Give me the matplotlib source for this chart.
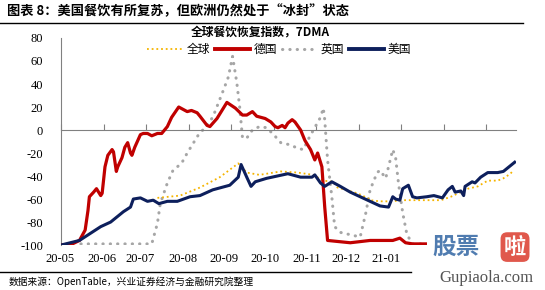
import matplotlib
matplotlib.use("Agg")
import matplotlib.pyplot as plt
from matplotlib.lines import Line2D

plt.rcParams["font.family"] = ["Noto Sans CJK SC", "DejaVu Sans"]

# ── data (x = days since start of series) ───────────────────────────────────
us_days = [0, 13, 28, 35, 44, 49, 51, 56, 61, 65, 69, 75, 82, 91, 98, 107, 119, 125, 127, 131,
           134, 137, 145, 160, 169, 177, 179, 183, 186, 191, 197, 204, 211, 218, 225, 231, 234, 236, 239, 241,
           245, 248, 251, 258, 263, 269, 273, 276, 278, 282, 284, 285, 290, 292, 296, 301, 308, 312, 316, 320]
us_vals = [-100, -96, -84, -80, -71, -67, -60, -59, -62, -61, -64, -62, -62, -58, -57, -52, -48, -41, -30, -41,
           -49, -45, -42, -38, -41, -41, -39, -46, -49, -45, -49, -54, -58, -62, -66, -67, -58, -60, -61, -51,
           -48, -58, -59, -58, -57, -59, -52, -49, -54, -53, -57, -49, -45, -46, -41, -37, -37, -36, -32, -28]

de_days = [0, 8, 13, 17, 19, 20, 23, 25, 28, 29, 31, 33, 36, 37, 39, 40, 43, 45, 47, 49,
           50, 52, 56, 58, 61, 64, 68, 71, 75, 78, 83, 86, 89, 92, 96, 98, 103, 105, 110, 117,
           123, 128, 131, 135, 138, 144, 148, 151, 153, 156, 158, 160, 163, 165, 169, 172, 176, 179, 181, 184,
           186, 188, 204, 218, 234, 239, 243, 248, 257]
de_vals = [-100, -99, -96, -87, -70, -58, -54, -51, -57, -55, -32, -22, -17, -19, -36, -32, -24, -15, -11, -20,
           -22, -15, -4, -3, -3, -5, -3, -3, 3, 11, 20, 18, 16, 17, 15, 12, 4, 3, 10, 24,
           19, 13, 13, 16, 12, 10, 7, 3, 2, 4, 2, 6, 9, 7, 0, -9, -17, -26, -20, -32,
           -67, -96, -98, -96, -96, -94, -98, -99, -99]

uk_days = [14, 64, 68, 70, 75, 79, 85, 89, 93, 97, 100, 107, 114, 118, 121, 124, 126, 128, 131, 135,
           140, 145, 150, 155, 162, 167, 171, 174, 178, 183, 185, 186, 188, 191, 193, 197, 204, 211, 215, 218,
           223, 225, 229, 231, 234, 236, 238, 241, 244, 248, 257]
uk_vals = [-99, -99, -81, -64, -46, -35, -29, -20, -12, -4, 0, 11, 33, 46, 64, 41, 20, -7, -7, 0,
           3, 2, -4, -11, -13, -16, -17, -9, 0, 11, 19, 9, -26, -58, -84, -89, -91, -93, -72, -52,
           -37, -35, -42, -32, -17, -24, -46, -72, -91, -99, -99]

gl_days = [68, 84, 98, 112, 125, 131, 140, 155, 167, 178, 185, 192, 195, 209, 216, 218, 225, 234, 239, 251,
           263, 268, 275, 287, 294, 301, 308, 312, 317, 319]
gl_vals = [-59, -57, -50, -41, -29, -37, -39, -36, -37, -39, -44, -45, -50, -55, -59, -61, -62, -62, -61, -61,
           -61, -61, -58, -51, -49, -44, -44, -42, -38, -35]

tick_days = [0, 30, 60, 90, 120, 150, 180, 210, 240, 270, 300]
month_labels = ["20-05", "20-06", "20-07", "20-08", "20-09", "20-10", "20-11", "20-12", "21-01"]
month_label_days = [-1, 29, 56, 86, 115, 144, 173, 201, 229]
y_ticks = [80, 60, 40, 20, 0, -20, -40, -60, -80, -100]

# ── canvas ──────────────────────────────────────────────────────────────────
fig = plt.figure(figsize=(5.45, 2.9), dpi=100)
ax = fig.add_axes([0.112, 0.155, 0.835, 0.714])
ax.set_xlim(0, 321)
ax.set_ylim(-100, 80)

c_gold, c_red, c_gray, c_navy = "#f5b400", "#c00000", "#a6a6a6", "#0d1f5c"

ax.plot(gl_days, gl_vals, color=c_gold, lw=1.3, ls=(0, (1, 1.6)), zorder=3)
ax.plot(de_days, de_vals, color=c_red, lw=2.3, zorder=4)
ax.plot(uk_days, uk_vals, color=c_gray, lw=2.2, ls=(0, (0.1, 2.3)),
        dash_capstyle="round", zorder=2)
ax.plot(us_days, us_vals, color=c_navy, lw=2.2, zorder=5)

# axes styling
for s in ["top", "right"]:
    ax.spines[s].set_visible(False)
ax.spines["bottom"].set_position(("data", 0))
ax.spines["bottom"].set_color("#808080")
ax.spines["bottom"].set_linewidth(0.8)
ax.spines["left"].set_color("#808080")
ax.spines["left"].set_linewidth(0.8)
ax.set_xticks(tick_days)
ax.set_xticklabels([])
ax.tick_params(axis="x", direction="in", length=4, color="#808080", width=0.8)
ax.set_yticks(y_ticks)
ax.set_yticklabels([str(v) for v in y_ticks], family="Liberation Serif", fontsize=9)
ax.tick_params(axis="y", length=0, pad=13)

for d, lab in zip(month_label_days, month_labels):
    ax.text(d, -112, lab, ha="center", va="center", fontsize=9,
            family="Liberation Serif", clip_on=False)

# legend
handles = [
    Line2D([], [], color=c_gold, lw=1.3, ls=(0, (1, 1.6))),
    Line2D([], [], color=c_red, lw=2.8),
    Line2D([], [], color=c_gray, lw=2.2, ls=(0, (0.1, 2.3)), dash_capstyle="round"),
    Line2D([], [], color=c_navy, lw=2.8),
]
ax.legend(handles, ["全球", "德国", "英国", "美国"], loc="center",
          bbox_to_anchor=(0.48, 0.945), ncol=4, frameon=False, fontsize=8.5,
          handlelength=3.0, handletextpad=0.3, columnspacing=0.4)

# titles
fig.text(0.478, 0.888, "全球餐饮恢复指数，7DMA", ha="center", va="center",
         fontsize=8.5, fontweight="bold")
fig.text(0.012, 0.962, "图表 8：美国餐饮有所复苏，但欧洲仍然处于“冰封”状态",
         ha="left", va="center", fontsize=9.5, fontweight="bold")
fig.add_artist(Line2D([0.0, 0.96], [0.922, 0.922], color="black", lw=1.0))
fig.add_artist(Line2D([0.0, 0.755], [0.062, 0.062], color="black", lw=1.0))
fig.text(0.015, 0.03, "数据来源：OpenTable，兴业证券经济与金融研究院整理",
         ha="left", va="center", fontsize=7)

# watermark
fig.text(0.837, 0.148, "股票", ha="center", va="center", fontsize=17,
         fontweight="bold", color="#3d6ea8", alpha=0.9)
fig.text(0.945, 0.148, "啦", ha="center", va="center", fontsize=16,
         fontweight="bold", color="white",
         bbox=dict(boxstyle="round,pad=0.15,rounding_size=0.3",
                   facecolor="#e0584c", edgecolor="none"))
fig.text(0.892, 0.041, "Gupiaola.com", ha="center", va="center", fontsize=12,
         family="Liberation Serif", color="#555555")

fig.savefig("out.png", dpi=100)
